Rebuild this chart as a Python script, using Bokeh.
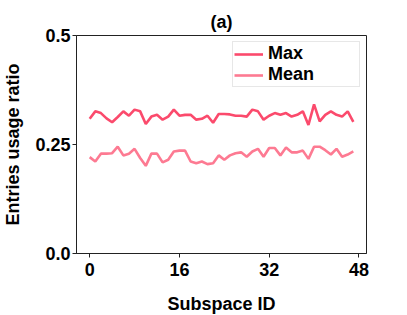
from bokeh.plotting import figure
from bokeh.embed import file_html
from bokeh.resources import INLINE
from bokeh.models import FixedTicker, Range1d, Legend, LegendItem

subspace_ids = list(range(48))
max_ratio = [0.309, 0.326, 0.322, 0.310, 0.301, 0.313, 0.326, 0.316, 0.330, 0.326,
             0.297, 0.314, 0.318, 0.307, 0.314, 0.330, 0.316, 0.318, 0.318, 0.307,
             0.309, 0.316, 0.300, 0.320, 0.320, 0.319, 0.316, 0.316, 0.314, 0.330,
             0.326, 0.307, 0.316, 0.322, 0.318, 0.322, 0.314, 0.318, 0.326, 0.295,
             0.342, 0.303, 0.318, 0.326, 0.318, 0.314, 0.326, 0.302]
mean_ratio = [0.221, 0.211, 0.229, 0.229, 0.230, 0.245, 0.225, 0.229, 0.240, 0.219,
              0.201, 0.229, 0.229, 0.209, 0.215, 0.234, 0.236, 0.236, 0.211, 0.207,
              0.211, 0.205, 0.207, 0.225, 0.215, 0.225, 0.230, 0.232, 0.222, 0.234,
              0.240, 0.222, 0.242, 0.242, 0.225, 0.243, 0.232, 0.232, 0.236, 0.217,
              0.245, 0.245, 0.237, 0.227, 0.240, 0.222, 0.227, 0.234]
x_ticks = [0, 16, 32, 48]
y_ticks = [0.0, 0.25, 0.5]
y_tick_labels = {0.0: "0.0", 0.25: "0.25", 0.5: "0.5"}

FONT = "Liberation Sans"

p = figure(frame_width=290, frame_height=218, output_backend="svg", toolbar_location=None,
           x_range=Range1d(-2.35, 49.35), y_range=Range1d(0, 0.5),
           min_border_left=70, min_border_right=31, min_border_top=35, min_border_bottom=50)
p.title.text = "(a)"
p.title.align = "center"
p.title.text_font = FONT
p.title.text_font_size = "18px"
p.title.text_font_style = "bold"
p.title.text_color = "black"
p.title.standoff = 8

p.background_fill_color = "white"
p.border_fill_color = "white"
p.outline_line_color = "#222222"
p.outline_line_width = 1
p.xgrid.visible = False
p.ygrid.visible = False

for ax in (p.xaxis[0], p.yaxis[0]):
    ax.major_label_text_font = FONT
    ax.major_label_text_font_size = "18px"
    ax.major_label_text_font_style = "bold"
    ax.major_label_text_color = "black"
    ax.axis_label_text_font = FONT
    ax.axis_label_text_font_size = "18px"
    ax.axis_label_text_font_style = "bold"
    ax.axis_label_text_color = "black"
    ax.minor_tick_line_color = None
    ax.major_tick_out = 4
    ax.major_tick_in = 0
    ax.axis_line_color = "#222222"
    ax.major_tick_line_color = "#222222"

p.xaxis[0].ticker = FixedTicker(ticks=x_ticks)
p.xaxis[0].axis_label = "Subspace ID"
p.xaxis[0].major_label_standoff = 5
p.xaxis[0].axis_label_standoff = 15

p.yaxis[0].ticker = FixedTicker(ticks=y_ticks)
p.yaxis[0].major_label_overrides = y_tick_labels
p.yaxis[0].axis_label = "Entries usage ratio"
p.yaxis[0].major_label_standoff = 2
p.yaxis[0].axis_label_standoff = 9

r_max = p.line(subspace_ids, max_ratio, line_color="#fb4a6c", line_width=2.6)
r_mean = p.line(subspace_ids, mean_ratio, line_color="#fd7a92", line_width=2.6)

legend = Legend(items=[LegendItem(label="Max", renderers=[r_max]),
                       LegendItem(label="Mean", renderers=[r_mean])],
                location="top_right")
legend.label_text_font = FONT
legend.label_text_font_size = "18px"
legend.label_text_font_style = "bold"
legend.label_text_color = "black"
legend.glyph_width = 29
legend.glyph_height = 18
legend.label_height = 18
legend.label_width = 90
legend.label_standoff = 5
legend.spacing = 0
legend.padding = 1
legend.margin = 6
legend.border_line_color = "#d0d0d0"
legend.border_line_width = 1
p.add_layout(legend)

open("out.html", "w").write(file_html(p, INLINE))
